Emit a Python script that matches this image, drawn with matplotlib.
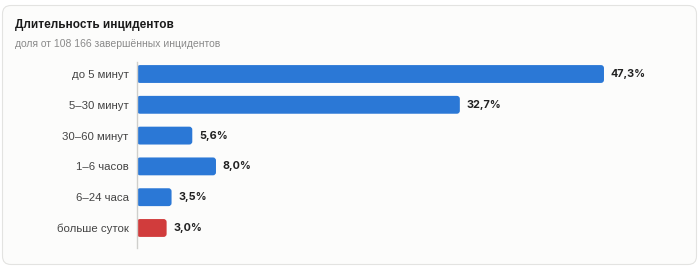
import matplotlib
matplotlib.use("Agg")
from matplotlib import pyplot as plt
from matplotlib.patches import FancyBboxPatch

categories = ["до 5 минут", "5–30 минут", "30–60 минут", "1–6 часов", "6–24 часа", "больше суток"]
shares = [47.3, 32.7, 5.6, 8.0, 3.5, 3.0]
labels = ["47,3%", "32,7%", "5,6%", "8,0%", "3,5%", "3,0%"]
colors = ["#2b78d6"] * 5 + ["#d13c3c"]

plt.rcParams['font.family'] = ['Liberation Sans', 'DejaVu Sans']

W, H = 700, 267
fig = plt.figure(figsize=(W / 100, H / 100), dpi=100)
fig.patch.set_facecolor("white")

# card background
card = FancyBboxPatch((2.5 / W, 2.5 / H), 694 / W, 259 / H,
                      boxstyle="round,pad=0,rounding_size=0.012",
                      transform=fig.transFigure, facecolor="#fcfcfb",
                      edgecolor="#e3e3e1", linewidth=0.8, mutation_aspect=W / H,
                      zorder=-10)
fig.patches.append(card)

fig.text(15 / W, 1 - 28 / H, "Длительность инцидентов", fontsize=8.5, fontweight="bold",
         color="#1a1a1a", va="baseline", ha="left")
fig.text(15 / W, 1 - 47 / H, "доля от 108 166 завершённых инцидентов", fontsize=7.5,
         color="#8a8a8a", va="baseline", ha="left")

left, right = 137, 680
top, bottom = 62, 248
ax = fig.add_axes([left / W, 1 - bottom / H, (right - left) / W, (bottom - top) / H])
ax.set_facecolor("none")

xmax = 55
ax.set_xlim(0, xmax)
ax.set_ylim(5.65, -0.39)

y = list(range(len(categories)))
bh = 0.58
bars = ax.barh(y, shares, height=bh, color=colors)
px_x = (right - left) / xmax
px_y = (bottom - top) / (5.65 + 0.39)
for b, c in zip(bars, colors):
    b.set_visible(False)
    r = FancyBboxPatch((b.get_x(), b.get_y()), b.get_width(), b.get_height(),
                       boxstyle="round,pad=0,rounding_size=%f" % (3 / px_x),
                       mutation_aspect=px_x / px_y, facecolor=c, edgecolor="none")
    ax.add_patch(r)

for yi, v, t in zip(y, shares, labels):
    ax.text(v + 7 / px_x, yi, t, fontsize=7.8, fontweight="bold", color="#222222",
            va="center", ha="left", family=["Inter", "DejaVu Sans"])

ax.set_yticks(y)
ax.set_yticklabels(categories, fontsize=8.2, color="#444444")
ax.tick_params(axis="y", length=0, pad=6)
ax.set_xticks([])
for s in ["top", "right", "bottom"]:
    ax.spines[s].set_visible(False)
ax.spines["left"].set_color("#cfcfcc")
ax.spines["left"].set_linewidth(1)

fig.savefig("out.png", dpi=100)
